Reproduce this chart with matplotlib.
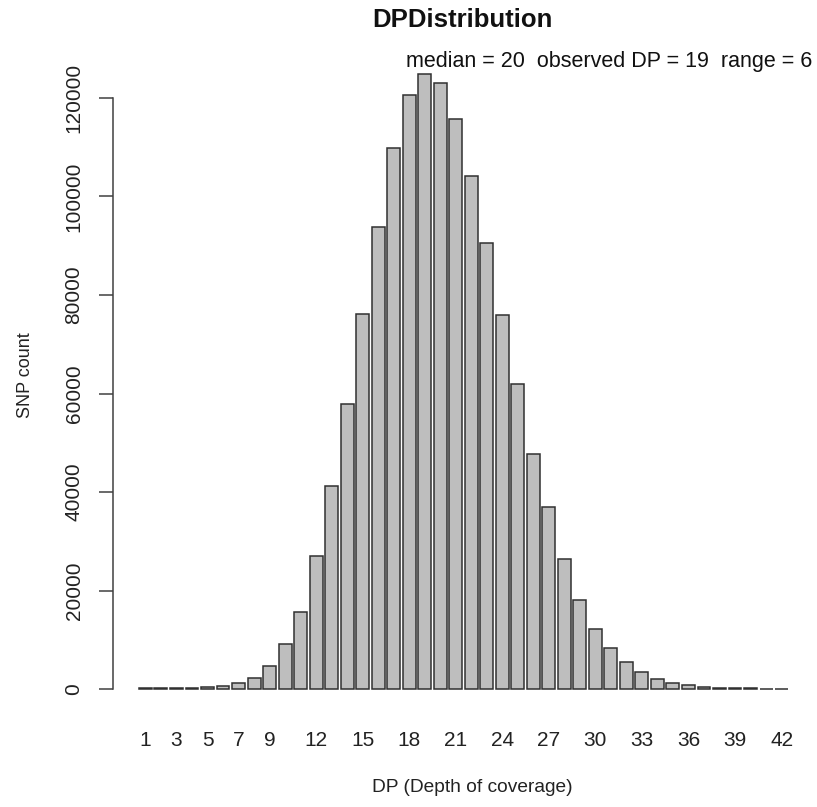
import numpy as np
import matplotlib
matplotlib.use('Agg')
import matplotlib.pyplot as plt

plt.rcParams['font.family'] = ['Liberation Sans', 'DejaVu Sans']

# depth of coverage 1..42 and SNP counts
dp = list(range(1, 43))
counts = [300, 250, 250, 300, 400, 700, 1300, 2400, 4800, 9300,
          15600, 27000, 41200, 57800, 76200, 93800, 109900, 120500, 124900, 123100,
          115700, 104200, 90600, 76000, 61900, 47800, 36900, 26400, 18100, 12300,
          8300, 5500, 3500, 2200, 1300, 800, 500, 350, 250, 200,
          150, 100]
shown_labels = [1, 3, 5, 7, 9, 12, 15, 18, 21, 24, 27, 30, 33, 36, 39, 42]
yticks = [0, 20000, 40000, 60000, 80000, 100000, 120000]

W, H = 817, 807
fig = plt.figure(figsize=(W / 100, H / 100), dpi=100)
# plot region in pixels, like R's barplot
left, right, top, bottom = 113, 814, 49, 714
ax = fig.add_axes([left / W, 1 - bottom / H, (right - left) / W, (bottom - top) / H])

ax.bar(dp, counts, width=1 / 1.2, color='#bebebe', edgecolor='#303030', linewidth=1.1)

ymax = max(counts)
ax.set_ylim(-0.04 * ymax, 1.04 * ymax)
span = (dp[-1] + 0.5 / 1.2) - (dp[0] - 0.5 / 1.2)
ax.set_xlim(dp[0] - 0.5 / 1.2 - 0.04 * span, dp[-1] + 0.5 / 1.2 + 0.04 * span)

for s in ['top', 'right', 'bottom']:
    ax.spines[s].set_visible(False)
ax.spines['left'].set_bounds(0, 120000)
ax.spines['left'].set_color('#404040')
ax.spines['left'].set_linewidth(1.1)

ax.set_yticks(yticks)
ax.set_yticklabels([str(v) for v in yticks], fontsize=15, color='#222222')
ax.tick_params(axis='y', length=10, width=1.1, color='#404040', pad=18)
plt.setp(ax.get_yticklabels(), rotation=90, ha='center', va='center')

ax.set_xticks(shown_labels)
ax.set_xticklabels([str(v) for v in shown_labels], fontsize=15, color='#222222')
ax.tick_params(axis='x', length=0, pad=12)

fig.text(462 / W, 1 - 20 / H, 'DPDistribution', fontsize=18.5, fontweight='bold',
         ha='center', va='center', color='#111111')
fig.text(812 / W, 1 - 62 / H, 'median = 20  observed DP = 19  range = 6', fontsize=15.5,
         ha='right', va='center', color='#111111')
fig.text(472 / W, 1 - 788 / H, 'DP (Depth of coverage)', fontsize=13.8,
         ha='center', va='center', color='#222222')
fig.text(25 / W, 1 - 375 / H, 'SNP count', fontsize=13, rotation=90,
         ha='center', va='center', color='#222222')

fig.savefig('out.png', dpi=100)
